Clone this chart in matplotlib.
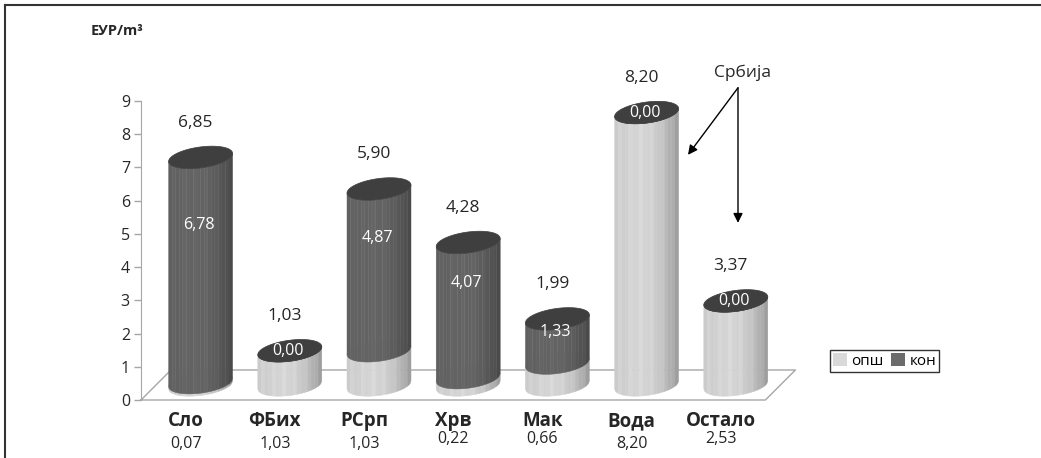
import numpy as np
import matplotlib
matplotlib.use("Agg")
import matplotlib.pyplot as plt
from matplotlib.patches import Polygon, Patch
from matplotlib.lines import Line2D

plt.rcParams['font.family'] = ['Open Sans', 'DejaVu Sans']

# data
categories = ['Сло', 'ФБих', 'РСрп', 'Хрв', 'Мак', 'Вода', 'Остало']
opsh = [0.07, 1.03, 1.03, 0.22, 0.66, 8.20, 2.53]
kon = [6.78, 0.00, 4.87, 4.07, 1.33, 0.00, 0.00]
totals = ['6,85', '1,03', '5,90', '4,28', '1,99', '8,20', '3,37']
series_names = ['опш', 'кон']
yticks = list(range(10))

W, H = 1041, 458
fig = plt.figure(figsize=(W / 100, H / 100), dpi=100)

# plot area in pixels, and pixel sizes of one category / one unit
PX_CAT = 89.2
PX_VAL = 33.2
ax = fig.add_axes([141 / W, (H - 400) / H, (800 - 141) / W, 299 / H])
ax.set_xlim(-0.5, -0.5 + 659 / PX_CAT)
ax.set_ylim(0, 9)

# fake 3d: depth offset of the floor and cylinder geometry
DX = 30 / PX_CAT
DY = 30 / PX_VAL
R = 32 / PX_CAT          # cylinder half width
B = 10.5 / PX_VAL        # ellipse half height
S = 4 / PX_VAL           # ellipse tilt
N_STRIPS = 18

LIGHT = np.array([0.83, 0.83, 0.83])
DARK = np.array([0.39, 0.39, 0.39])
TOP_DARK = '#3f3f3f'


def ell_front(xs, cx, cy):
    c = np.clip((xs - cx) / R, -1, 1)
    return cy + S * c - B * np.sqrt(1 - c * c)


def ellipse(cx, cy):
    t = np.linspace(0, 2 * np.pi, 80)
    return np.column_stack([cx + R * np.cos(t), cy + B * np.sin(t) + S * np.cos(t)])


def shade(t):
    return 1.0 - 0.28 * max(0.0, t + 0.15) ** 2 / 1.32 - 0.06 * max(0.0, -t - 0.3)


def cylinder(cx, y0, y1, base, top_color):
    # everything at the same zorder, so later patches cover earlier ones
    edges = np.linspace(cx - R, cx + R, N_STRIPS + 1)
    for k in range(N_STRIPS):
        xs = np.linspace(edges[k], edges[k + 1], 5)
        top = ell_front(xs, cx, y1)
        bot = ell_front(xs, cx, y0)
        pts = np.column_stack([np.r_[xs, xs[::-1]], np.r_[top, bot[::-1]]])
        t = ((edges[k] + edges[k + 1]) / 2 - cx) / R
        col = np.clip(base * shade(t) * (1.03 if k % 3 == 1 else 1.0), 0, 1)
        ax.add_patch(Polygon(pts, closed=True, facecolor=col, edgecolor=col,
                             linewidth=0.3, zorder=3))
    ax.add_patch(Polygon(ellipse(cx, y1), closed=True, facecolor=top_color,
                         edgecolor=top_color, linewidth=0.5, zorder=3))


# floor
floor_x = [-0.5, 6.5, 6.5 + DX, -0.5 + DX, -0.5]
floor_y = [0, 0, DY, DY, 0]
ax.plot(floor_x, floor_y, color='#a6a6a6', lw=1.0, zorder=1, clip_on=False)

for i, cat in enumerate(categories):
    cx = i + DX / 2
    base_y = DY / 2
    y_mid = base_y + opsh[i]
    y_top = y_mid + kon[i]
    cylinder(cx, base_y, y_mid, LIGHT, LIGHT * 0.95)
    cylinder(cx, y_mid, y_top, DARK, TOP_DARK)
    # inner value of the upper segment
    y_lab = opsh[i] + 0.7 * kon[i] + base_y
    ax.text(cx - 0.02, y_lab, f'{kon[i]:.2f}'.replace('.', ','), color='white',
            fontsize=11.5, ha='center', va='center', zorder=6)
    # total above the cylinder
    ax.text(cx - 0.06, y_top + 1.05, totals[i], color='#262626', fontsize=12.5,
            ha='center', va='center', zorder=6)
    # category and опш value under the axis
    ax.text(i, -0.63, cat, fontsize=13.5, fontweight='bold', color='#262626',
            ha='center', va='center', clip_on=False)
    ax.text(i, -1.33 + (0.15 if i in (3, 4, 6) else 0), f'{opsh[i]:.2f}'.replace('.', ','),
            fontsize=11.5, color='#262626', ha='center', va='center', clip_on=False)

# axes styling
for side in ('top', 'right', 'bottom'):
    ax.spines[side].set_visible(False)
ax.spines['left'].set_color('#a6a6a6')
ax.set_xticks([])
ax.set_yticks(yticks)
ax.tick_params(axis='y', colors='#a6a6a6', length=5, width=1, labelsize=11.5,
               labelcolor='#262626', pad=3)
ax.patch.set_alpha(0)

# unit label
fig.text(117 / W, 1 - 31 / H, 'ЕУР/m³', fontsize=10.5, fontweight='bold',
         color='#262626', ha='center', va='center')

# Србија annotation
src = (-0.5 + (738 - 141) / PX_CAT, (400 - 88) / PX_VAL)
ax.text(src[0] + 0.05, (400 - 73) / PX_VAL, 'Србија', fontsize=12.5, color='#262626',
        ha='center', va='center', clip_on=False)
for tgt in [(-0.5 + (688 - 141) / PX_CAT, (400 - 155) / PX_VAL),
            (src[0], (400 - 223) / PX_VAL)]:
    ax.annotate('', xy=tgt, xytext=src, xycoords='data',
                arrowprops=dict(arrowstyle='-|>', color='black', lw=1.0,
                                mutation_scale=14, shrinkA=0, shrinkB=0),
                annotation_clip=False)

# legend
handles = [Patch(facecolor='#d9d9d9', edgecolor='none'),
           Patch(facecolor='#6b6b6b', edgecolor='none')]
leg = fig.legend(handles, series_names, loc='center', ncol=2,
                 bbox_to_anchor=(884.5 / W, 1 - 361 / H), frameon=True,
                 fancybox=False, fontsize=11, handlelength=0.9, handleheight=0.9,
                 handletextpad=0.3, columnspacing=0.5, borderpad=0.2)
leg.get_frame().set_edgecolor('black')
leg.get_frame().set_linewidth(1.0)

# outer frame (left and top edges)
fig.add_artist(Line2D([5 / W, 5 / W], [0, 1 - 5 / H], color='#333333', lw=1.5))
fig.add_artist(Line2D([5 / W, 1], [1 - 5 / H, 1 - 5 / H], color='#333333', lw=1.5))

fig.savefig('out.png', dpi=100)
